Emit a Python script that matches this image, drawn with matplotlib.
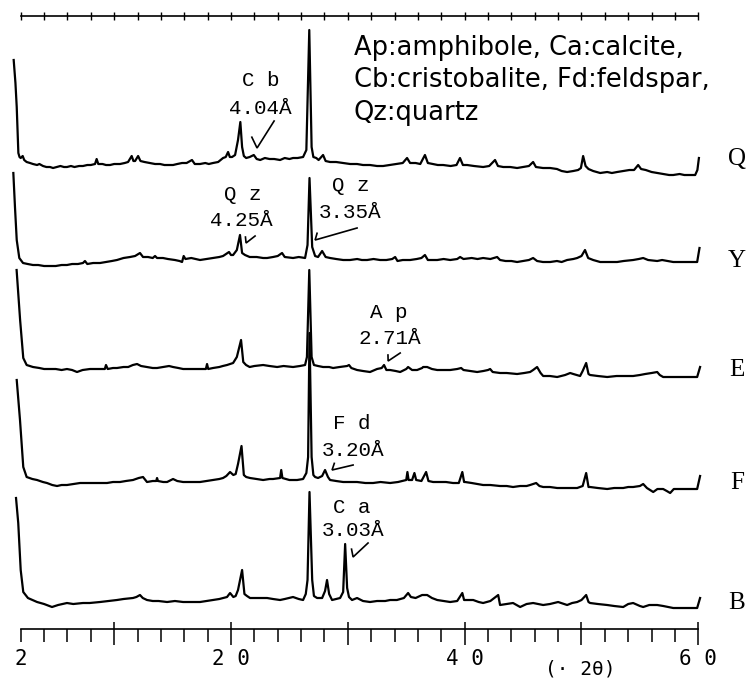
import numpy as np
import matplotlib
matplotlib.use("Agg")
import matplotlib.pyplot as plt
from matplotlib.ticker import MultipleLocator

# ---------------- data (2-theta in degrees, intensity in arbitrary units above baseline) -------------
Q_2theta = [1.4, 1.55, 1.66, 1.75, 1.8, 1.9, 2.0, 2.17, 2.3, 2.51, 2.8, 3.05, 3.4, 3.6, 3.91, 4.2, 4.51, 4.77,
            5.1, 5.4, 5.7, 5.96, 6.3, 6.6, 7.0, 7.33, 7.7, 8.0, 8.36, 8.5, 8.64, 9.0, 9.3, 9.65, 10.0, 10.5,
            10.9, 11.19, 11.5, 11.65, 11.79, 12.05, 12.25, 12.6, 13.07, 13.5, 13.93, 14.3, 14.7, 15.04, 15.4,
            15.81, 16.2, 16.66, 16.9, 17.35, 17.8, 18.1, 18.46, 18.9, 19.32, 19.55, 19.75, 19.9, 20.09, 20.35,
            20.6, 20.8, 20.95, 21.1, 21.3, 21.6, 21.95, 22.2, 22.5, 22.9, 23.3, 23.7, 24.2, 24.6, 25.0, 25.31,
            25.7, 26.17, 26.45, 26.7, 26.9, 27.05, 27.3, 27.5, 27.88, 28.1, 28.48, 29.0, 29.6, 30.2, 30.79,
            31.3, 31.9, 32.5, 33.02, 33.6, 34.22, 34.7, 35.07, 35.33, 35.8, 36.2, 36.6, 36.85, 37.3, 37.7,
            38.16, 38.8, 39.3, 39.6, 39.85, 40.21, 40.8, 41.58, 42.1, 42.6, 42.85, 43.3, 43.9, 44.49, 45.0,
            45.5, 45.86, 46.1, 46.7, 47.32, 47.9, 48.3, 48.77, 49.3, 49.71, 49.95, 50.14, 50.35, 50.6, 51.0,
            51.6, 52.2, 52.6, 53.05, 53.6, 54.1, 54.5, 54.85, 55.1, 55.5, 56.0, 56.48, 57.0, 57.5, 57.85,
            58.4, 58.8, 59.3, 59.73, 59.92, 60.05]
Q_int = [115, 92, 68, 40, 22, 18, 17, 19, 15, 13, 12, 11, 10, 11, 9, 8, 8, 7,
         8, 9, 8, 8, 9, 8, 9, 9, 10, 10, 11, 16, 11, 11, 10, 10, 11, 11,
         12, 13, 19, 14, 14, 19, 14, 13, 12, 11, 11, 10, 10, 10, 11,
         12, 12, 15, 11, 11, 12, 11, 12, 13, 17, 18, 23, 18, 18, 20,
         35, 53, 28, 19, 17, 18, 20, 16, 15, 17, 16, 16, 15, 17, 16, 17,
         17, 18, 25, 145, 28, 18, 17, 15, 20, 14, 13, 13, 12, 11, 11,
         10, 10, 9, 9, 10, 11, 12, 17, 12, 12, 11, 20, 12, 11, 10,
         10, 9, 10, 17, 10, 10, 9, 8, 9, 15, 9, 8, 8, 7, 8,
         9, 13, 8, 7, 7, 6, 4, 3, 4, 5, 7, 19, 9, 6, 4,
         2, 3, 2, 3, 4, 5, 5, 10, 6, 5, 3, 2, 1, 0, 0,
         1, 0, 0, 0, 5, 17]

Y_2theta = [1.37, 1.51, 1.66, 1.88, 2.2, 2.6, 3.05, 3.5, 4.0, 4.51, 5.0, 5.5, 5.96, 6.4, 6.9, 7.33, 7.5, 7.7,
            8.2, 8.79, 9.3, 9.8, 10.24, 10.8, 11.36, 11.79, 12.21, 12.47, 12.9, 13.3, 13.5, 13.67, 14.18,
            14.6, 15.2, 15.6, 15.81, 15.95, 16.1, 16.6, 17.35, 17.9, 18.46, 19.0, 19.32, 19.83, 20.0, 20.18,
            20.5, 20.77, 20.95, 21.2, 21.6, 22.2, 22.75, 23.09, 23.6, 24.0, 24.37, 24.6, 25.31, 25.8, 26.34,
            26.55, 26.72, 26.95, 27.2, 27.45, 27.8, 28.1, 28.48, 29.0, 29.6, 30.19, 30.8, 31.2, 31.65, 32.2,
            32.76, 33.3, 33.8, 34.05, 34.25, 34.7, 35.33, 35.9, 36.3, 36.6, 36.85, 37.3, 37.65, 38.2, 38.76,
            39.36, 39.61, 39.9, 40.6, 41.1, 41.58, 42.2, 42.78, 43.03, 43.5, 44.0, 44.49, 45.0, 45.5, 45.86,
            46.2, 46.7, 47.32, 47.9, 48.3, 48.77, 49.3, 49.63, 50.0, 50.3, 50.57, 51.0, 51.6, 52.2, 53.05,
            53.6, 54.42, 54.9, 55.28, 55.7, 56.48, 56.9, 57.4, 57.85, 58.5, 59.05, 59.5, 59.9, 60.1]
Y_int = [92, 58, 25, 7, 2, 1, 0, 0, -1, -1, -1, 0, 0, 1, 1, 2, 4, 1,
         2, 2, 3, 4, 5, 7, 8, 9, 12, 8, 8, 7, 9, 7, 7,
         6, 5, 4, 3, 9, 6, 7, 5, 6, 7, 8, 9, 13, 10, 10,
         15, 30, 12, 10, 8, 8, 7, 7, 8, 9, 12, 8, 7, 8, 7,
         20, 87, 18, 9, 8, 14, 8, 7, 6, 5, 5, 6, 5, 5, 6,
         5, 5, 6, 8, 4, 5, 5, 6, 7, 10, 5, 5, 5, 6, 5,
         6, 8, 6, 7, 6, 7, 6, 8, 5, 4, 4, 3, 4, 5, 7,
         4, 3, 3, 4, 3, 5, 6, 7, 9, 15, 7, 5, 3, 3, 3,
         4, 5, 6, 7, 5, 4, 5, 4, 3, 3, 3, 3, 3, 17]

E_2theta = [1.65, 1.95, 2.22, 2.51, 3.05, 3.6, 4.0, 4.51, 5.0, 5.5, 5.96, 6.4, 6.82, 7.3, 7.93, 8.5, 9.2, 9.3,
            9.45, 9.9, 10.24, 10.8, 11.2, 11.6, 11.96, 12.3, 12.8, 13.3, 13.67, 14.18, 14.7, 15.04, 15.5,
            15.9, 16.24, 16.8, 17.35, 17.85, 17.95, 18.05, 18.46, 19.0, 19.3, 19.66, 20.18, 20.5, 20.86,
            21.05, 21.29, 21.6, 22.0, 22.75, 23.3, 23.95, 24.5, 25.31, 25.9, 26.34, 26.5, 26.7, 26.9, 27.1,
            27.45, 27.88, 28.4, 28.74, 29.3, 29.94, 30.1, 30.3, 30.79, 31.3, 31.9, 32.5, 32.9, 33.1, 33.3,
            33.62, 34.1, 34.48, 35.0, 35.16, 35.5, 35.93, 36.36, 36.44, 36.79, 37.2, 37.65, 38.2, 38.76,
            39.36, 39.7, 39.9, 40.5, 41.07, 41.6, 42.0, 42.18, 42.4, 43.03, 43.6, 44.49, 45.1, 45.6, 45.86,
            46.2, 46.5, 46.72, 47.3, 47.92, 48.6, 49.03, 49.3, 49.88, 50.1, 50.4, 50.6, 50.74, 51.4, 52.2,
            53.0, 53.31, 54.0, 54.42, 55.0, 55.45, 56.0, 56.48, 56.7, 56.99, 57.6, 58.45, 59.1, 59.9, 60.15]
E_int = [107, 57, 19, 12, 10, 9, 8, 8, 8, 7, 8, 7, 5, 7, 8, 8, 8, 12,
         8, 9, 9, 10, 10, 12, 13, 11, 10, 9, 9, 10, 11, 10, 9,
         8, 8, 8, 8, 8, 13, 8, 9, 10, 11, 12, 14, 20, 37,
         15, 12, 10, 11, 12, 11, 10, 11, 10, 11, 12, 20, 107, 20, 12,
         11, 10, 10, 9, 10, 11, 12, 9, 7, 6, 5, 8, 9, 12, 7,
         7, 6, 5, 8, 10, 7, 7, 9, 10, 10, 8, 7, 7, 7,
         8, 9, 7, 6, 5, 6, 7, 8, 5, 4, 4, 3, 4, 5, 7,
         10, 4, 1, 1, 0, 2, 4, 3, 1, 6, 14, 3, 2, 1, 0,
         1, 1, 1, 1, 2, 3, 4, 5, 2, 0, 0, 0, 0, 0, 10]

F_2theta = [1.66, 1.94, 2.22, 2.51, 3.0, 3.4, 3.9, 4.25, 4.7, 5.11, 5.5, 5.96, 6.5, 7.08, 7.6, 8.19, 8.8, 9.39,
            9.9, 10.5, 11.0, 11.61, 12.1, 12.47, 12.81, 13.3, 13.6, 13.67, 13.75, 14.2, 14.53, 15.04, 15.4,
            15.9, 16.5, 17.35, 17.9, 18.46, 19.0, 19.32, 19.6, 19.92, 20.2, 20.4, 20.6, 20.9, 21.1, 21.3,
            21.63, 22.2, 22.75, 23.3, 23.6, 24.2, 24.3, 24.4, 25.0, 25.66, 26.17, 26.45, 26.6, 26.72, 26.9,
            27.05, 27.2, 27.45, 27.8, 28.05, 28.3, 28.48, 29.0, 29.6, 30.2, 30.79, 31.5, 32.16, 32.8, 33.62,
            34.3, 35.0, 35.1, 35.2, 35.5, 35.7, 35.85, 36.3, 36.7, 36.9, 37.3, 37.8, 38.4, 39.0, 39.5, 39.8,
            39.95, 40.04, 40.6, 41.07, 41.58, 42.2, 43.03, 43.6, 44.14, 44.75, 45.3, 45.6, 46.12, 46.4, 46.72,
            47.3, 47.92, 48.5, 49.03, 49.63, 50.1, 50.4, 50.6, 50.74, 51.4, 52.2, 52.8, 53.57, 54.0, 54.42,
            55.0, 55.28, 55.6, 56.14, 56.5, 56.99, 57.3, 57.59, 57.9, 58.45, 59.2, 59.9, 60.15]
F_int = [109, 69, 22, 12, 10, 9, 7, 6, 4, 3, 4, 4, 5, 6, 6, 6, 6, 6,
         7, 7, 8, 9, 11, 12, 7, 8, 8, 11, 8, 7, 7, 10, 8,
         7, 7, 7, 8, 9, 10, 11, 13, 17, 14, 15, 25, 43, 14, 12,
         11, 10, 9, 10, 10, 11, 19, 11, 9, 9, 10, 16, 32, 156, 32,
         14, 12, 11, 13, 19, 12, 9, 8, 7, 7, 7, 6, 6, 7, 6,
         7, 9, 17, 9, 9, 16, 9, 8, 17, 8, 7, 7, 7, 6, 6, 17,
         7, 7, 6, 5, 4, 4, 3, 3, 2, 3, 3, 4, 6, 3, 2,
         2, 1, 1, 1, 1, 3, 16, 2, 2, 1, 0, 1, 1, 2, 2,
         3, 5, 1, -3, 0, 0, -2, -4, 0, 0, 0, 0, 13]

B_2theta = [1.6, 1.79, 2.0, 2.22, 2.62, 3.0, 3.4, 4.0, 4.68, 5.2, 5.96, 6.5, 7.33, 7.9, 8.79, 9.5, 10.24, 10.8,
            11.61, 11.9, 12.21, 12.45, 12.81, 13.3, 13.8, 14.53, 15.2, 15.9, 16.5, 17.35, 17.9, 18.46, 19.0,
            19.32, 19.66, 19.92, 20.2, 20.4, 20.6, 20.95, 21.15, 21.37, 21.63, 22.2, 23.09, 23.6, 24.2, 24.6,
            25.31, 25.8, 26.17, 26.4, 26.55, 26.72, 26.95, 27.1, 27.37, 27.8, 28.05, 28.22, 28.4, 28.65, 29.0,
            29.34, 29.6, 29.77, 29.94, 30.1, 30.36, 30.79, 31.3, 31.9, 32.5, 33.2, 33.62, 34.2, 34.8, 35.16,
            35.4, 35.8, 36.36, 36.79, 37.2, 37.65, 38.2, 38.76, 39.36, 39.8, 39.95, 40.4, 40.73, 41.2, 41.58,
            42.2, 42.87, 43.03, 43.6, 44.14, 44.75, 45.3, 45.86, 46.3, 46.72, 47.3, 48.0, 48.5, 48.77, 49.2,
            49.63, 50.0, 50.4, 50.6, 50.74, 51.4, 52.2, 52.8, 53.57, 54.0, 54.42, 55.0, 55.28, 55.8, 56.48,
            57.0, 57.85, 58.6, 59.3, 59.9, 60.15]
B_int = [108, 83, 36, 14, 8, 6, 4, 2, -1, 1, 3, 2, 3, 3, 4, 5, 6, 7,
         8, 9, 11, 8, 6, 5, 5, 4, 5, 4, 4, 4, 5, 6, 7,
         8, 9, 13, 9, 10, 16, 36, 12, 10, 8, 8, 8, 7, 6, 7,
         9, 7, 6, 12, 26, 114, 26, 10, 8, 8, 15, 26, 12, 6, 7,
         8, 14, 62, 18, 9, 6, 8, 5, 4, 5, 5, 6, 6, 8, 13,
         9, 8, 11, 11, 8, 6, 5, 4, 5, 13, 6, 6, 6, 4, 3,
         5, 11, 1, 2, 3, -1, 2, 3, 2, 1, 2, 4, 2, 1, 3,
         4, 6, 11, 4, 3, 2, 1, 0, -1, 2, 3, 0, -1, 1, 1,
         0, -2, -2, -2, -2, 8]

samples = ["Q", "Y", "E", "F", "B"]
series_2theta = [Q_2theta, Y_2theta, E_2theta, F_2theta, B_2theta]
series_int = [Q_int, Y_int, E_int, F_int, B_int]
offsets = [454, 364, 252, 140, 23]

tick_values = [2, 10, 20, 30, 40, 50, 60]
tick_labels = ["2", "", "2 0", "", "4 0", "", "6 0"]

legend_lines = ["Ap:amphibole, Ca:calcite,", "Cb:cristobalite, Fd:feldspar,", "Qz:quartz"]

# annotation: mineral, d-spacing
ann_mineral = ["C b", "Q z", "Q z", "A p", "F d", "C a"]
ann_dspacing = ["4.04Å", "4.25Å", "3.35Å", "2.71Å", "3.20Å", "3.03Å"]

# ---------------- figure -------------
fig = plt.figure(figsize=(7.51, 6.84), dpi=100)
pos = [0.02756, 0.0804, 0.9023, 0.8962]
ax = fig.add_axes(pos)
ax.set_xlim(2, 60)
ax.set_ylim(0, 613)

for name, tt, ii, off in zip(samples, series_2theta, series_int, offsets):
    ax.plot(tt, np.asarray(ii) + off, color="black", lw=1.6, clip_on=False,
            solid_joinstyle="round")

label_dy = [16, 4, 7, 6, 3]
for name, off, dy in zip(samples, offsets, label_dy):
    ax.text(63.3, off + dy, name, ha="center", va="center", fontsize=18,
            family="Liberation Serif", clip_on=False)

# spines & ticks
for s in ("left", "right"):
    ax.spines[s].set_visible(False)
ax.spines["top"].set_linewidth(1.2)
ax.spines["bottom"].set_linewidth(1.2)
ax.set_yticks([])
ax.set_xticks(tick_values)
ax.set_xticklabels(tick_labels, family="DejaVu Sans Mono", fontsize=15)
ax.xaxis.set_minor_locator(MultipleLocator(2))
ax.tick_params(axis="x", which="major", direction="out", length=11.5, width=1.1, pad=3, top=False)
ax.tick_params(axis="x", which="minor", direction="out", length=9.4, width=1.1, top=False)
ax.xaxis.get_major_ticks()[0].tick1line.set_markersize(9.4)

# inward part of major bottom ticks
ax_b = fig.add_axes(pos, frameon=False)
ax_b.set_xlim(2, 60)
ax_b.set_xticks(tick_values[1:])
ax_b.set_yticks([])
ax_b.tick_params(axis="x", direction="in", length=5, width=1.1, labelbottom=False)
ax_b.patch.set_visible(False)

# top ticks (crossing)
ax_t = fig.add_axes(pos, frameon=False)
ax_t.set_xlim(2, 60)
ax_t.xaxis.tick_top()
ax_t.xaxis.set_major_locator(MultipleLocator(2))
ax_t.set_yticks([])
ax_t.tick_params(axis="x", direction="inout", length=6, width=1.0, labeltop=False)
ax_t.patch.set_visible(False)

# axis unit
ax.text(49.9, -40, "(· 2θ)", ha="center", va="center", fontsize=14,
        family="DejaVu Sans Mono", clip_on=False)

# legend text
for txt, yb in zip(legend_lines, [574, 542, 509]):
    ax.text(30.5, yb, txt, ha="left", va="baseline", fontsize=18.5, family="DejaVu Sans")

# annotations
ann_mineral_xy = [(22.57, 549), (21.04, 435), (30.28, 444), (33.53, 317), (30.36, 206), (30.36, 122)]
ann_d_xy = [(22.49, 521), (20.86, 409), (30.19, 417), (33.62, 291), (30.45, 179), (30.45, 99)]
ann_tail = [(23.69, 508), (22.06, 393), (30.79, 401), (34.48, 276), (30.45, 164), (31.73, 86)]
ann_tip = [(22.23, 481), (21.29, 386), (27.2, 389), (33.45, 268), (28.65, 159), (30.45, 72)]
ann_barb = [12, 6, 7, 6, 7, 8]


def half_arrow(tail, tip, barb_px, ang=58):
    p0 = ax.transData.transform(tail)
    p1 = ax.transData.transform(tip)
    d = p0 - p1
    d = d / np.hypot(*d)
    a = np.deg2rad(ang)
    r = np.array([d[0] * np.cos(a) - d[1] * np.sin(a), d[0] * np.sin(a) + d[1] * np.cos(a)])
    b = ax.transData.inverted().transform(p1 + r * barb_px)
    ax.plot([tail[0], tip[0], b[0]], [tail[1], tip[1], b[1]], color="black", lw=1.2,
            clip_on=False, solid_joinstyle="miter")


for m, dsp, mxy, dxy, tl, tp, bp in zip(ann_mineral, ann_dspacing, ann_mineral_xy, ann_d_xy,
                                        ann_tail, ann_tip, ann_barb):
    ax.text(*mxy, m, ha="center", va="center", fontsize=15, family="Liberation Mono")
    ax.text(*dxy, dsp, ha="center", va="center", fontsize=15, family="Liberation Mono")
    half_arrow(tl, tp, bp)

fig.savefig("out.png", dpi=100)
